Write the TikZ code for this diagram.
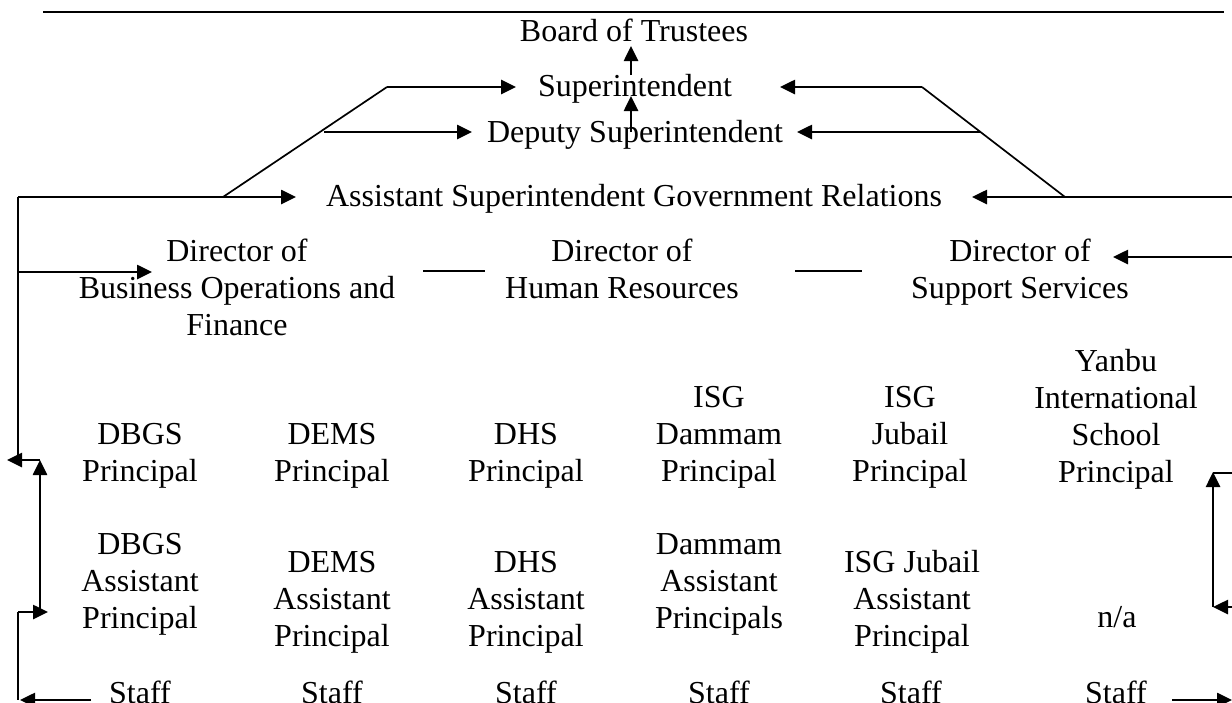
\documentclass[tikz,border=0pt]{standalone}
\usepackage{fontspec}
\setmainfont{Liberation Serif}
\usetikzlibrary{arrows.meta}
\begin{document}
\begin{tikzpicture}[x=1pt,y=-1pt,
  lbl/.style={font=\fontsize{32}{37}\selectfont, align=center, anchor=north, inner sep=0pt, outer sep=0pt},
  arr/.style={line width=2.6pt, -{Triangle[length=15pt,width=14pt]}},
  ln/.style={line width=1.7pt},
  rule/.style={line width=2.2pt}]
\useasboundingbox (0,0) rectangle (1232,702);
\clip (0,0) rectangle (1232,702);

% ---------- text nodes ----------
\node[lbl] (board) at (634,16) {\strut Board of Trustees};
\node[lbl] (sup)   at (635,71) {\strut Superintendent};
\node[lbl] (dep)   at (635,117) {\strut Deputy Superintendent};
\node[lbl] (asgr)  at (634,181) {\strut Assistant Superintendent Government Relations};

\node[lbl] (dbo) at (237,236) {\strut Director of\\Business Operations and\\Finance};
\node[lbl] (dhr) at (622,236) {\strut Director of\\Human Resources};
\node[lbl] (dss) at (1020,236) {\strut Director of\\Support Services};

\node[lbl] (p1) at (140,419) {\strut DBGS\\Principal};
\node[lbl] (p2) at (332,419) {\strut DEMS\\Principal};
\node[lbl] (p3) at (526,419) {\strut DHS\\Principal};
\node[lbl] (p4) at (719,382) {\strut ISG\\Dammam\\Principal};
\node[lbl] (p5) at (910,382) {\strut ISG\\Jubail\\Principal};
\node[lbl] (p6) at (1116,346) {\strut Yanbu\\International\\School\\Principal};

\node[lbl] (a1) at (140,529) {\strut DBGS\\Assistant\\Principal};
\node[lbl] (a2) at (332,547) {\strut DEMS\\Assistant\\Principal};
\node[lbl] (a3) at (526,547) {\strut DHS\\Assistant\\Principal};
\node[lbl] (a4) at (719,529) {\strut Dammam\\Assistant\\Principals};
\node[lbl] (a5) at (912,547) {\strut ISG Jubail\\Assistant\\Principal};
\node[lbl] (a6) at (1117,602) {\strut n/a};

\node[lbl] (s1) at (140,678) {\strut Staff};
\node[lbl] (s2) at (332,678) {\strut Staff};
\node[lbl] (s3) at (526,678) {\strut Staff};
\node[lbl] (s4) at (719,678) {\strut Staff};
\node[lbl] (s5) at (911,678) {\strut Staff};
\node[lbl] (s6) at (1116,678) {\strut Staff};

% ---------- coordinates ----------
\coordinate (ruleL) at (43,12);
\coordinate (ruleR) at (1224,12);
\coordinate (supTop) at (631,75);
\coordinate (boardBot) at (631,46);
\coordinate (depTop) at (631,132);
\coordinate (supBot) at (631,96);

\coordinate (LsupJ) at (387,87);
\coordinate (LsupT) at (516,87);
\coordinate (LdepJ) at (324,132);
\coordinate (LdepT) at (472,132);
\coordinate (LasgJ) at (223,197);
\coordinate (LasgT) at (296,197);
\coordinate (Lcorner) at (18,197);
\coordinate (LdboJ) at (18,272);
\coordinate (LdboT) at (152,272);
\coordinate (Lp1J) at (18,460);
\coordinate (Lp1R) at (40,460);
\coordinate (Lp1T) at (7,460);
\coordinate (La1V) at (40,612);
\coordinate (La1J) at (18,612);
\coordinate (La1T) at (48,612);
\coordinate (LsJ) at (18,700);
\coordinate (LsS) at (91,700);
\coordinate (LsT) at (20,700);

\coordinate (RsupJ) at (922,87);
\coordinate (RsupT) at (780,87);
\coordinate (RdepJ) at (981,132);
\coordinate (RdepT) at (797,132);
\coordinate (RasgJ) at (1065,197);
\coordinate (RasgE) at (1232,197);
\coordinate (RasgT) at (972,197);
\coordinate (RdssE) at (1232,257);
\coordinate (RdssT) at (1113,257);
\coordinate (Rp6E) at (1232,473);
\coordinate (Rp6T) at (1213,472);
\coordinate (Rp6C) at (1213,473);
\coordinate (Ra6V) at (1213,607);
\coordinate (Ra6E) at (1232,607);
\coordinate (Rs6S) at (1172,700);
\coordinate (Rs6T) at (1232,700);

\coordinate (hrL1) at (423,271);
\coordinate (hrL2) at (485,271);
\coordinate (hrR1) at (795,271);
\coordinate (hrR2) at (862,271);

% ---------- connectors ----------
\draw[rule] (ruleL) -- (ruleR);
\draw[arr] (supTop) -- (boardBot);
\draw[arr] (depTop) -- (supBot);

% left side
\draw[ln] (LasgJ) -- (LsupJ);
\draw[arr] (LsupJ) -- (LsupT);
\draw[arr] (LdepJ) -- (LdepT);
\draw[arr] (Lcorner) -- (LasgT);
\draw[ln] (Lcorner) -- (Lp1J);
\draw[arr] (LdboJ) -- (LdboT);
\draw[arr] (Lp1R) -- (Lp1T);
\draw[arr] (La1V) -- (Lp1R);
\draw[arr] (La1J) -- (La1T);
\draw[ln] (La1J) -- (LsJ);
\draw[arr] (LsS) -- (LsT);

% right side
\draw[ln] (RasgJ) -- (RsupJ);
\draw[arr] (RsupJ) -- (RsupT);
\draw[arr] (RdepJ) -- (RdepT);
\draw[arr] (RasgE) -- (RasgT);
\draw[arr] (RdssE) -- (RdssT);
\draw[ln] (Rp6C) -- (Rp6E);
\draw[arr] (Ra6V) -- (Rp6T);
\draw[arr] (Ra6E) -- (Ra6V);
\draw[arr] (Rs6S) -- (Rs6T);

% director separators
\draw[ln] (hrL1) -- (hrL2);
\draw[ln] (hrR1) -- (hrR2);
\end{tikzpicture}
\end{document}
